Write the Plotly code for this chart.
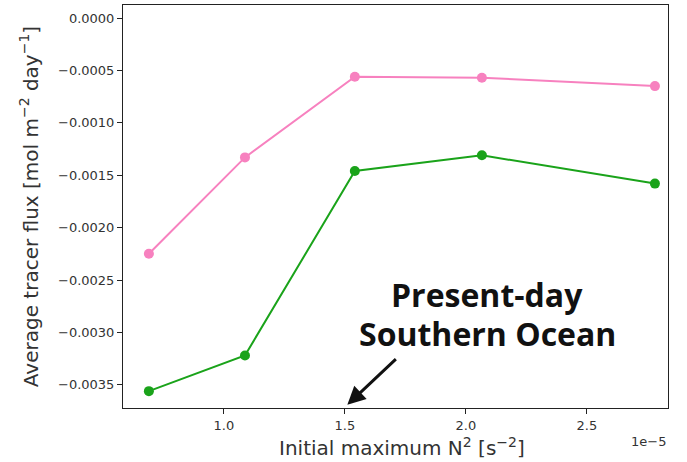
import plotly.graph_objects as go

# x in units of 1e-5 s^-2
n2_scaled = [0.69, 1.087, 1.541, 2.066, 2.781]
n2 = [v * 1e-5 for v in n2_scaled]
flux_pink = [-0.00225, -0.00133, -0.00056, -0.00057, -0.00065]
flux_green = [-0.00356, -0.00322, -0.00146, -0.00131, -0.00158]

x_ticks = [1.0, 1.5, 2.0, 2.5]
y_ticks = [0.0, -0.0005, -0.0010, -0.0015, -0.0020, -0.0025, -0.0030, -0.0035]

fig = go.Figure()
fig.add_trace(go.Scatter(x=n2, y=flux_pink, mode="lines+markers",
                         line=dict(color="#f781bf", width=2),
                         marker=dict(color="#f781bf", size=10)))
fig.add_trace(go.Scatter(x=n2, y=flux_green, mode="lines+markers",
                         line=dict(color="#1aa31a", width=2),
                         marker=dict(color="#1aa31a", size=10)))

axis_common = dict(showline=True, linecolor="#222", linewidth=1, mirror=True,
                   ticks="outside", ticklen=5, tickcolor="#222",
                   showgrid=False, zeroline=False, automargin=False,
                   tickfont=dict(family="DejaVu Sans", size=13, color="#333"))

fig.update_xaxes(range=[0.583e-5, 2.835e-5],
                 tickvals=[t * 1e-5 for t in x_ticks],
                 ticktext=[f"{t:.1f}" for t in x_ticks],
                 **axis_common)
fig.update_yaxes(range=[-0.003721, 0.000124],
                 tickvals=y_ticks,
                 ticktext=[f"{t:.4f}".replace("-", "\u2212") for t in y_ticks],
                 title=dict(text="Average tracer flux [mol m<sup>\u22122</sup> day<sup>\u22121</sup>]",
                            font=dict(family="DejaVu Sans", size=20, color="#333"),
                            standoff=14),
                 **axis_common)

# x-axis title, slightly right of centre as in the original
fig.add_annotation(xref="paper", yref="paper", x=(402 - 123) / 545, y=-(447 - 408) / 403,
                   xanchor="center", yanchor="middle", showarrow=False,
                   text="Initial maximum N<sup>2</sup> [s<sup>\u22122</sup>]",
                   font=dict(family="DejaVu Sans", size=20, color="#333"))

fig.add_annotation(xref="paper", yref="paper", x=1.0, y=-0.06, xanchor="right",
                   yanchor="top", showarrow=False, text="1e\u22125",
                   font=dict(family="DejaVu Sans", size=13, color="#333"))

# two-line label, placed line by line
for line, ypx in [("Present-day", 294), ("Southern Ocean", 333)]:
    fig.add_annotation(xref="paper", yref="paper", x=(487 - 123) / 545,
                       y=(408 - ypx) / 403, xanchor="center", yanchor="middle",
                       showarrow=False, text=f"<b>{line}</b>",
                       font=dict(family="Open Sans", size=32, color="#111"))
# arrow pointing down-left toward the x axis
fig.add_annotation(x=1.51e-5, y=-0.00369, xref="x", yref="y",
                   ax=50, ay=-47, axref="pixel", ayref="pixel",
                   showarrow=True, arrowhead=2, arrowsize=1.2, arrowwidth=3,
                   arrowcolor="#111", text="")

fig.update_layout(width=687, height=462, showlegend=False,
                  plot_bgcolor="white", paper_bgcolor="white",
                  margin=dict(l=123, r=19, t=5, b=54))

fig.write_html("out.html", config={"displayModeBar": False},
               post_script=["document.body.style.margin='0px';"])
